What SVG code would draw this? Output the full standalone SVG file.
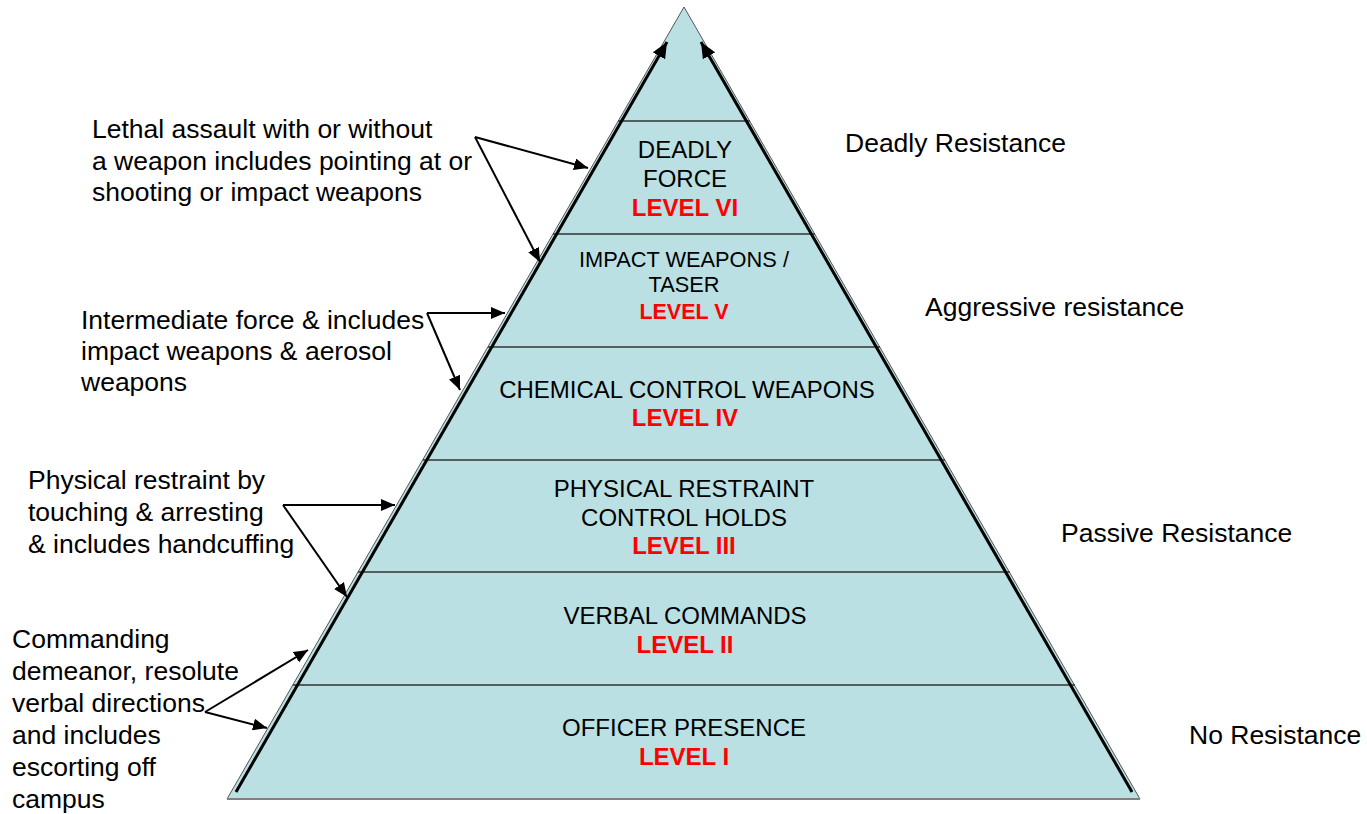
<svg xmlns="http://www.w3.org/2000/svg" width="1367" height="814" viewBox="0 0 1367 814">
<style>
.t{font-family:"Liberation Sans",Arial,sans-serif;font-size:24px;fill:#000}
.n{font-size:26.5px}
.c{text-anchor:middle}
.s{font-size:21.8px}
.lv{font-weight:bold;fill:#FF0000}
.v{font-size:21.5px}
.div{stroke:#333;stroke-width:1.5}
.ar{stroke:#000;stroke-width:2;fill:none;marker-end:url(#ah)}
.th{stroke:#000;stroke-width:3;fill:none;marker-end:url(#ahb)}
</style>
<defs>
<marker id="ah" viewBox="0 0 14 12" refX="14" refY="6" markerWidth="14" markerHeight="12" markerUnits="userSpaceOnUse" orient="auto"><path d="M0,0 L14,6 L0,12 Z" fill="#000"/></marker>
<marker id="ahb" viewBox="0 0 16 14" refX="16" refY="7" markerWidth="16" markerHeight="14" markerUnits="userSpaceOnUse" orient="auto"><path d="M0,0 L16,7 L0,14 Z" fill="#000"/></marker>
</defs>
<rect width="1367" height="814" fill="#fff"/>
<g id="pyramid">
<polygon points="684,7 1140,799 227,799" fill="#BBE0E3" stroke="#555" stroke-width="1"/>
<line x1="227" y1="799" x2="1140" y2="799" stroke="#808080" stroke-width="2"/>
<line class="div" x1="618" y1="121" x2="750" y2="121"/>
<line class="div" x1="553" y1="234" x2="815" y2="234"/>
<line class="div" x1="488" y1="347" x2="880" y2="347"/>
<line class="div" x1="423" y1="460" x2="945" y2="460"/>
<line class="div" x1="358" y1="572" x2="1010" y2="572"/>
<line class="div" x1="293" y1="685" x2="1075" y2="685"/>
</g>
<g id="level6">
<text class="t c" x="685" y="158">DEADLY</text>
<text class="t c" x="685" y="187">FORCE</text>
<text class="t c lv" x="685" y="216">LEVEL VI</text>
</g>
<g id="level5">
<text class="t c s" x="684" y="267">IMPACT WEAPONS /</text>
<text class="t c s" x="684" y="292">TASER</text>
<text class="t c v lv" x="684" y="319">LEVEL V</text>
</g>
<g id="level4">
<text class="t c" x="687" y="398">CHEMICAL CONTROL WEAPONS</text>
<text class="t c lv" x="685" y="426">LEVEL IV</text>
</g>
<g id="level3">
<text class="t c" x="684" y="497">PHYSICAL RESTRAINT</text>
<text class="t c" x="684" y="526">CONTROL HOLDS</text>
<text class="t c lv" x="684" y="554">LEVEL III</text>
</g>
<g id="level2">
<text class="t c" x="685" y="624">VERBAL COMMANDS</text>
<text class="t c lv" x="685" y="653">LEVEL II</text>
</g>
<g id="level1">
<text class="t c" x="684" y="736">OFFICER PRESENCE</text>
<text class="t c lv" x="684" y="765">LEVEL I</text>
</g>
<g id="note-lethal">
<text class="t n" x="92" y="138">Lethal assault with or without</text>
<text class="t n" x="92" y="169.5">a weapon includes pointing at or</text>
<text class="t n" x="92" y="201">shooting or impact weapons</text>
</g>
<g id="note-intermediate">
<text class="t n" x="81" y="329">Intermediate force &amp; includes</text>
<text class="t n" x="81" y="360">impact weapons &amp; aerosol</text>
<text class="t n" x="81" y="391">weapons</text>
</g>
<g id="note-physical">
<text class="t n" x="28" y="489">Physical restraint by</text>
<text class="t n" x="28" y="521">touching &amp; arresting</text>
<text class="t n" x="28" y="553">&amp; includes handcuffing</text>
</g>
<g id="note-commanding">
<text class="t n" x="12" y="648">Commanding</text>
<text class="t n" x="12" y="680">demeanor, resolute</text>
<text class="t n" x="12" y="712">verbal directions</text>
<text class="t n" x="12" y="744">and includes</text>
<text class="t n" x="12" y="776">escorting off</text>
<text class="t n" x="12" y="808">campus</text>
</g>
<g id="resistance-labels">
<text class="t n" x="845" y="152">Deadly Resistance</text>
<text class="t n" x="925" y="316">Aggressive resistance</text>
<text class="t n" x="1061" y="542">Passive Resistance</text>
<text class="t n" x="1189" y="744">No Resistance</text>
</g>
<g id="connectors">
<line class="th" x1="236" y1="792" x2="667" y2="42"/>
<line class="th" x1="1132" y1="792" x2="701" y2="42"/>
<line class="ar" x1="475" y1="137" x2="588" y2="168"/>
<line class="ar" x1="475" y1="137" x2="540" y2="262"/>
<line class="ar" x1="427" y1="313" x2="505" y2="313"/>
<line class="ar" x1="427" y1="313" x2="460" y2="390"/>
<line class="ar" x1="283" y1="505" x2="395" y2="505"/>
<line class="ar" x1="283" y1="505" x2="347" y2="597"/>
<line class="ar" x1="205" y1="712" x2="308" y2="650"/>
<line class="ar" x1="205" y1="712" x2="267" y2="728"/>
</g>
</svg>
